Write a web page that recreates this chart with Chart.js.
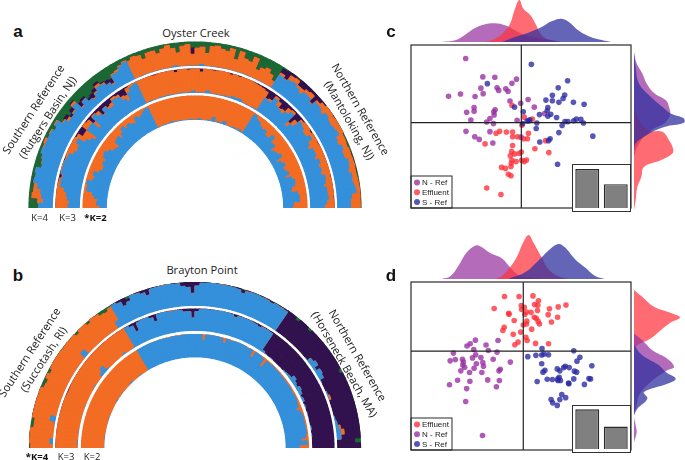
<!DOCTYPE html>
<html>
<head>
<meta charset="utf-8">
<script src="https://cdn.jsdelivr.net/npm/chart.js@4/dist/chart.umd.min.js"></script>
<style>
  html, body { margin: 0; padding: 0; background: #fff; width: 685px; height: 460px; overflow: hidden; }
  .box { position: absolute; overflow: hidden; }
  .box canvas { display: block; }
  .inset { background: #fff; border: 1px solid #333; box-sizing: content-box; }
  .t { position: absolute; white-space: nowrap; transform: translate(-50%, -50%); font: 11.2px "Open Sans", sans-serif; color: #222; }
  .k { font-size: 9.5px; }
  .bold { font-weight: 700; color: #111; }
  .letter { font: 700 17px "Liberation Sans", sans-serif; color: #111; }
</style>
</head>
<body>

<div class="box" style="left:28px;top:41px;width:334px;height:167px"><canvas id="fanA" width="334" height="334"></canvas></div>
<div class="box" style="left:28px;top:281px;width:334px;height:167px"><canvas id="fanB" width="334" height="334"></canvas></div>

<div class="box" style="left:407px;top:0;width:228px;height:42px"><canvas id="cTop" width="228" height="42"></canvas></div>
<div class="box" style="left:634px;top:41px;width:51px;height:171px"><canvas id="cRight" width="51" height="171"></canvas></div>
<div class="box" style="left:407px;top:41px;width:228px;height:171px"><canvas id="cScatter" width="228" height="171"></canvas></div>
<div class="box inset" style="left:572px;top:164px;width:57px;height:46px"><canvas id="cBars" width="57" height="46"></canvas></div>

<div class="box" style="left:407px;top:235px;width:228px;height:44px"><canvas id="dTop" width="228" height="44"></canvas></div>
<div class="box" style="left:634px;top:278px;width:51px;height:176px"><canvas id="dRight" width="51" height="176"></canvas></div>
<div class="box" style="left:407px;top:278px;width:228px;height:176px"><canvas id="dScatter" width="228" height="176"></canvas></div>
<div class="box inset" style="left:572px;top:405px;width:57px;height:46px"><canvas id="dBars" width="57" height="46"></canvas></div>

<script>
//Colours
const GREEN = '#1b6834', PURPLE = '#32124e', ORANGE = '#f36c24', BLUE = '#3490da';
const C_NREF = 'rgba(150,45,160,0.78)', C_EFF = 'rgba(255,45,55,0.78)', C_SREF = 'rgba(40,40,160,0.78)';
const F_NREF = 'rgba(150,50,160,0.72)', F_EFF = 'rgba(255,50,60,0.72)', F_SREF = 'rgba(50,50,160,0.75)';

//Panel a: share of each individual per cluster, left to right (S ref, effluent, N ref)
const aK2Orange = [
  .7,.55,.6,.45,.35,.1,.1,.05,.25,.3,.2,.4,.5,.5,.4,.45,.3,.25,.35,.5,.55,.6,.35,.3,.45,.3,.15,.3,.2,.3,.35,.15,.25,.2,.1,.05,
  .97,.98,.95,.98,.97,.93,.97,.98,.96,.97,.98,.97,.96,.98,.98,.93,.98,.98,.95,.98,.8,.98,.94,.97,.85,.98,.96,.98,.93,.98,.9,.98,
  .05,.15,.2,.3,.35,.3,.45,.45,.25,.5,.45,.7,.6,.55,.45,.75,.6,.5,.65,.6,.5,.7,.45,.35,.4,.55,.6,.35,.3,.3,.55,.6];
const aK3Orange = [
  .5,.55,.45,.4,.3,.12,.08,.05,.02,.05,.02,.05,.1,.25,.35,.3,.15,.4,.35,.5,.25,.2,.3,.05,.15,.05,.02,.1,.15,.1,.1,.15,.25,.2,.1,.05,
  .97,.96,.97,.98,.93,.96,.95,.97,.97,.88,.96,.97,.92,.9,.97,.85,.97,.87,.95,.96,.97,.97,.9,.97,.85,.9,.88,.97,.93,.95,.9,.85,
  .03,.08,.1,.2,.05,.15,.2,.1,.2,.25,.1,.2,.3,.25,.15,.35,.45,.3,.3,.4,.25,.35,.3,.35,.2,.25,.35,.25,.25,.2,.3,.4];
const aK3Purple = [
  0,0,0,0,0,0,.02,.1,.02,0,0,.03,0,0,0,0,0,.05,.25,.25,0,.05,.3,.05,.1,.35,.15,.25,.2,.05,.1,.25,.3,.05,0,0,
  0,0,0,0,.03,0,0,0,0,.09,0,0,.04,0,0,.12,0,0,.03,0,0,0,.05,0,.04,0,0,0,.03,.04,.06,.1,
  .35,.3,.05,.15,.35,.3,.1,.05,.5,.25,.05,0,0,.05,0,0,.02,0,0,0,0,0,0,0,.02,0,0,0,0,.02,0,0];
const aK4Green = [
  .4,.35,.1,.15,.15,.08,.15,.1,.3,.25,.2,.1,.1,.05,.15,.1,.25,.1,.35,.3,.45,.3,.15,.4,.35,.55,.5,.4,.25,.4,.45,.5,.35,.3,.2,.12,
  .2,.1,.15,.35,.15,.15,.3,.15,.05,.2,.4,.15,.1,.25,.25,.2,.45,.15,.1,.2,.25,.1,.5,.12,.35,.4,.15,.6,.45,.35,.5,.7,
  .05,.02,0,.02,0,0,0,0,0,0,0,0,0,0,0,0,0,.05,.05,.08,.05,.03,.02,.03,.03,.05,.03,.02,.02,.02,.03,.03];
const aK4Orange = [
  0,.25,.4,.3,.15,0,0,0,0,.02,0,0,.05,.1,0,.05,0,.05,.05,.1,0,.05,.1,.05,.02,0,.05,.05,.1,.05,.02,.05,.05,.1,.05,.05,
  .78,.88,.83,.63,.83,.83,.68,.83,.93,.72,.58,.83,.88,.48,.73,.72,.53,.83,.88,.78,.73,.88,.48,.86,.63,.58,.83,.38,.53,.63,.48,.28,
  .1,.03,.2,.2,.1,.2,.15,.2,.05,.1,.2,.35,.2,.25,.3,.25,.2,.3,.35,.2,.3,.3,.2,.25,.3,.2,.25,.2,.15,.35,.4,.4];
const aK4Purple = [
  0,0,0,0,0,.03,0,0,0,0,0,0,0,0,0,0,0,0,0,.15,.1,.15,.05,.2,.1,.1,.2,.15,.1,.05,.15,.2,0,0,0,0,
  0,0,0,0,0,0,0,0,0,0,0,0,0,.25,0,0,0,0,0,0,0,0,0,0,0,0,0,0,0,0,0,0,
  .2,.35,.1,.05,.25,.25,.15,.1,.4,.15,.05,0,0,.02,0,0,0,0,0,0,0,.02,.02,0,.02,0,0,0,0,0,0,0];

//Panel b: same, split S ref (33), effluent (36), N ref (31)
const bK2Orange = [
  .98,1,1,.97,1,1,1,1,1,1,.96,1,1,1,1,1,1,.95,1,1,.96,1,1,1,1,.94,1,1,1,.96,1,1,.97,
  0,0,0,0,0,0,0,0,0,.05,0,0,.03,0,0,0,0,0,0,.25,0,0,0,0,.03,.22,0,.05,0,0,0,0,.05,0,.3,0,
  .02,.05,.4,.05,.05,.03,.05,.03,.05,.06,.05,.06,.05,.05,.08,.05,.05,.08,.1,.22,.1,.05,.05,.06,.05,.05,.05,.1,.32,.05,.4];
const bK3Orange = [
  1,.95,1,1,.97,1,1,1,1,1,1,.97,1,1,1,1,1,.96,1,1,1,.85,.7,.95,1,1,1,1,1,.93,1,1,.96,
  0,0,0,0,0,0,0,0,0,0,0,.04,0,0,0,0,0,0,0,0,0,0,0,0,0,0,.03,0,0,0,0,0,0,.03,0,0,
  0,0,0,0,0,0,0,0,0,0,0,0,0,0,0,0,0,0,0,0,0,0,0,0,0,0,0,0,0,0,0];
const bK3Purple = [
  0,0,0,0,0,0,0,0,0,0,0,0,.02,.03,.02,0,0,0,0,0,0,0,0,0,0,0,0,0,0,0,0,0,0,
  .02,.1,.4,.05,0,.02,.1,.3,.02,0,.02,0,.02,.03,.12,.12,.4,.12,.03,0,.02,0,.02,0,0,.02,.1,.03,.02,.02,.03,.05,.1,.03,.03,.05,
  .9,.97,1,.97,1,1,1,1,.95,.92,.9,.75,.85,.9,.8,.85,.95,.9,1,.95,1,.97,.98,1,1,.95,1,.97,1,1,1];
const bK4Green = [
  .05,0,0,0,.12,.12,0,0,0,0,.02,0,.12,.15,.02,.12,.02,0,0,0,.02,0,.02,0,.1,0,0,.1,0,.02,.12,.15,.05,
  0,0,0,.1,0,0,0,0,0,0,0,0,0,0,0,0,0,0,0,0,0,0,0,0,0,0,.04,0,0,0,0,0,.03,0,0,0,
  0,0,.12,0,0,.1,0,0,0,0,0,0,0,0,0,.12,0,0,0,0,0,0,0,0,0,0,0,0,0,.25,0];
const bK4Orange = [
  .95,.85,1,1,.88,.85,.75,1,1,1,.98,1,.88,.85,.98,.88,.98,1,1,1,.98,1,.7,1,.9,1,1,.9,1,.98,.88,.85,.65,
  0,0,0,0,0,.02,0,0,0,0,.02,0,0,0,0,0,.02,0,0,0,0,0,.02,0,0,0,0,.02,0,0,0,.02,0,0,.02,0,
  0,0,0,0,0,0,0,0,0,0,.02,0,0,0,0,0,0,0,0,.08,0,0,0,0,0,0,.08,.15,0,0,0];
const bK4Purple = [
  0,0,0,0,0,0,0,0,0,0,0,0,0,0,0,0,0,0,0,0,0,0,0,0,0,0,0,0,0,0,0,0,0,
  .02,.08,.3,.1,0,.03,.1,.25,.03,.02,0,0,.02,.03,.15,.2,.45,.15,.03,.02,0,.02,0,.02,.03,.05,.12,.03,.02,.02,.03,.03,.05,.03,.03,.05,
  1,1,.88,1,1,.9,1,1,1,.98,.8,.72,.9,.75,.8,.85,1,1,.95,.88,1,1,1,1,.95,.9,.78,.65,.8,.75,1];

//Panels c, d: points, in axis units
const cNRef = [[237,168],[290,225],[327,226],[394,232],[380,245],[284,260],[334,259],[339,267],[361,262],[368,270],[291,277],[221,278],[184,285],[266,286],[374,300],[407,307],[430,295],[449,319],[263,320],[263,332],[240,335],[328,327],[324,333],[325,343],[312,354],[253,359],[302,365],[323,370],[396,360],[481,339],[238,394],[312,395],[265,411],[279,419],[321,430],[408,412]];
const cEffluent = [[380,313],[418,350],[443,356],[411,375],[342,394],[331,400],[363,396],[382,396],[431,400],[382,411],[397,411],[416,417],[428,417],[297,433],[382,438],[484,423],[451,448],[494,460],[379,457],[409,458],[402,463],[388,464],[375,470],[380,484],[393,488],[410,484],[425,483],[418,488],[378,493],[377,503],[348,506],[360,509],[369,527],[377,532],[302,570],[346,590]];
const cSRef = [[440,186],[304,246],[552,237],[523,259],[505,282],[543,281],[538,292],[485,297],[505,299],[525,304],[570,304],[603,310],[388,319],[415,333],[491,320],[489,330],[465,342],[491,347],[500,341],[518,351],[427,362],[435,358],[432,362],[457,368],[413,370],[544,364],[553,364],[571,361],[579,356],[593,357],[601,368],[535,376],[455,385],[525,398],[630,409],[466,427],[493,423],[498,417],[521,496]];
const dEffluent = [[357,177],[402,177],[445,175],[462,190],[450,202],[460,204],[409,205],[418,210],[325,214],[410,217],[459,220],[496,215],[523,209],[547,203],[439,226],[425,225],[420,232],[370,229],[371,232],[492,233],[521,241],[449,241],[455,244],[426,253],[387,251],[461,254],[465,262],[502,256],[425,262],[415,265],[356,272],[441,278],[352,282],[407,287],[384,294],[423,303],[427,313],[399,318],[389,326],[453,322],[493,323]];
const dNRef = [[267,312],[251,323],[241,330],[300,327],[337,313],[262,341],[307,344],[334,349],[199,352],[268,357],[258,367],[284,366],[189,376],[205,372],[227,371],[230,380],[322,371],[375,380],[270,385],[290,381],[228,389],[234,396],[292,393],[263,399],[222,407],[249,412],[287,412],[344,402],[340,407],[212,436],[250,439],[305,435],[341,437],[187,450],[332,456],[240,462],[237,502],[289,607]];
const dSRef = [[473,338],[479,355],[472,358],[493,357],[571,345],[429,363],[454,359],[590,365],[581,377],[472,385],[627,391],[545,393],[557,397],[540,397],[520,401],[528,407],[482,405],[476,411],[573,408],[580,411],[526,427],[522,432],[489,433],[505,434],[522,437],[530,437],[571,432],[618,431],[623,432],[458,440],[555,445],[556,447],[604,449],[534,480],[546,490],[528,496],[501,496],[506,506],[520,514]];

//Axis limits and zero lines of the two scatter plots
const cXRange = [68,748], cYRange = [126,632], cZero = [409,367];
const dXRange = [68,748], dYRange = [132,652], dZero = [415,346];

//Marginal densities: position along the axis and height
const cTopNPos = [170,210,240,270,300,330,360,390,420,460,500,530];
const cTopNVal = [0,5,22,42,53,56,50,35,20,12,6,0];
const cTopEPos = [300,330,355,375,390,403,415,435,450,465,480,500,530];
const cTopEVal = [0,10,28,55,100,126,100,82,58,28,12,4,0];
const cTopSPos = [350,390,430,470,500,530,555,580,610,640,680];
const cTopSVal = [0,15,28,45,62,70,58,35,18,8,0];
const cRightNPos = [160,190,220,250,280,300,320,345,370,385,410,440,470];
const cRightNVal = [0,8,25,38,62,95,105,108,90,60,30,10,0];
const cRightEPos = [330,390,395,420,445,460,480,500,530,560,600,630];
const cRightEVal = [0,40,85,105,117,115,80,30,22,10,5,0];
const cRightSPos = [155,200,250,290,320,340,355,368,378,390,410,430,450];
const cRightSVal = [0,5,15,50,85,110,150,150,100,65,30,5,0];
const dTopNPos = [170,195,220,245,270,285,315,350,375,400,440,470];
const dTopNVal = [0,8,40,80,100,98,78,62,35,12,3,0];
const dTopEPos = [330,350,375,395,415,431,445,470,490,520,550];
const dTopEVal = [0,8,35,65,110,132,110,65,30,8,0];
const dTopSPos = [370,420,460,490,520,540,570,600,630,660];
const dTopSVal = [0,20,55,85,105,95,60,35,10,0];
const dRightEPos = [165,190,215,235,247,262,285,310,330,345];
const dRightEVal = [0,30,60,115,138,110,80,50,10,0];
const dRightNPos = [295,320,345,370,395,405,440,480,510,540,570,590,620];
const dRightNVal = [0,30,55,100,120,100,50,15,8,0,5,8,0];
const dRightSPos = [330,360,390,410,430,445,470,490,520,540];
const dRightSVal = [0,25,75,95,125,100,30,40,10,0];

//Explained variance bars
const cBarValues = [116,71];
const dBarValues = [118,67];
const barLabels = ['Axis 1','Axis 2'];

//Labels drawn round the figure: text, centre x, centre y, rotation, class
const figureTexts = [
  ['a',18,32,0,'letter'], ['b',18,276,0,'letter'], ['c',391,32,0,'letter'], ['d',391,276,0,'letter'],
  ['Oyster Creek',196,32,0,''], ['Brayton Point',202,269,0,''],
  ['Southern Reference',33,109,-57,''], ['(Rutgers Basin, NJ)',46.5,117,-57,''],
  ['Northern Reference',361,109,60,''], ['(Mantoloking, NJ)',350,120,60,''],
  ['Southern Reference',29,352,-57,''], ['(Succotash, RI)',42.5,358.5,-57,''],
  ['Northern Reference',358,355,60,''], ['(Horseneck Beach, MA)',345,364,60,''],
  ['K=4',39.5,217,0,'k'], ['K=3',67.5,217,0,'k'], ['*K=2',95.5,217,0,'k bold'],
  ['*K=4',37,456,0,'k bold'], ['K=3',66,456,0,'k'], ['K=2',92,456,0,'k']
];

figureTexts.forEach(function (t) {
  const el = document.createElement('div');
  el.className = 't ' + t[4];
  el.textContent = t[0];
  el.style.left = t[1] + 'px';
  el.style.top = t[2] + 'px';
  el.style.transform = 'translate(-50%,-50%) rotate(' + t[3] + 'deg)';
  document.body.appendChild(el);
});

Chart.defaults.animation = false;
Chart.defaults.responsive = false;
Chart.defaults.plugins.legend.display = false;
Chart.defaults.plugins.tooltip.enabled = false;

//One ring is a stack of wedges, painted from the outer edge inwards
function ringLayers(outer, inner, layers) {
  const t = outer - inner;
  const n = layers[0].values.length;
  const used = new Array(n).fill(0);
  const out = [];
  layers.forEach(function (l) {
    out.push({color: l.color, data: used.map(function (u) { return outer - t * u; })});
    l.values.forEach(function (v, i) { used[i] += v; });
  });
  out.push({color: BLUE, data: used.map(function (u) { return outer - t * u; })});
  out.push({color: '#fff', data: new Array(n).fill(inner)});
  return out;
}

function makeFan(id, rings) {
  let layers = [];
  rings.forEach(function (r) { layers = layers.concat(ringLayers(r.outer, r.inner, r.layers)); });
  // first dataset is painted last
  layers.reverse();
  new Chart(id, {
    type: 'polarArea',
    data: {
      labels: layers[0].data.map(function (v, i) { return i + 1; }),
      datasets: layers.map(function (l) {
        return {data: l.data, angle: 1.8, backgroundColor: l.color, borderColor: l.color, borderWidth: 1.2};
      })
    },
    options: {
      layout: {padding: 0},
      scales: {r: {display: false, min: 0, max: 167, startAngle: -90}}
    }
  });
}

makeFan('fanA', [
  {outer: 166, inner: 141.5, layers: [{color: GREEN, values: aK4Green}, {color: PURPLE, values: aK4Purple}, {color: ORANGE, values: aK4Orange}]},
  {outer: 139, inner: 114.5, layers: [{color: PURPLE, values: aK3Purple}, {color: ORANGE, values: aK3Orange}]},
  {outer: 112, inner: 87.5, layers: [{color: ORANGE, values: aK2Orange}]}
]);
makeFan('fanB', [
  {outer: 165.5, inner: 141.5, layers: [{color: GREEN, values: bK4Green}, {color: PURPLE, values: bK4Purple}, {color: ORANGE, values: bK4Orange}]},
  {outer: 139, inner: 116.5, layers: [{color: PURPLE, values: bK3Purple}, {color: ORANGE, values: bK3Orange}]},
  {outer: 113.5, inner: 90, layers: [{color: ORANGE, values: bK2Orange}]}
]);

//Border Chart
const chartAreaBorder = {
  id: 'chartAreaBorder',
  beforeDatasetsDraw(chart) {
    const {ctx, chartArea: {left, top, width, height}} = chart;
    ctx.save();
    ctx.fillStyle = '#fff';
    ctx.fillRect(left, top, width, height);
    ctx.restore();
  },
  afterDraw(chart) {
    const {ctx, chartArea: {left, top, width, height}} = chart;
    ctx.save();
    ctx.strokeStyle = '#2a2a2a';
    ctx.lineWidth = 1.2;
    ctx.strokeRect(left, top, width, height);
    ctx.restore();
  }
};

//Small legend box in the lower left corner, built from the dataset labels
const cornerLegend = {
  id: 'cornerLegend',
  afterDraw(chart) {
    const {ctx, chartArea: {left, bottom}} = chart;
    const items = chart.data.datasets.filter(function (d) { return d.inLegend; })
      .sort(function (a, b) { return a.inLegend - b.inLegend; });
    const w = 41, h = 32;
    ctx.save();
    ctx.fillStyle = '#fff';
    ctx.strokeStyle = '#2a2a2a';
    ctx.lineWidth = 1;
    ctx.fillRect(left, bottom - h, w, h);
    ctx.strokeRect(left, bottom - h, w, h);
    ctx.font = '8px "Liberation Sans", sans-serif';
    ctx.textBaseline = 'middle';
    items.forEach(function (d, i) {
      const y = bottom - h + 6.5 + i * 9.7;
      ctx.beginPath();
      ctx.arc(left + 6, y, 3, 0, Math.PI * 2);
      ctx.fillStyle = d.backgroundColor;
      ctx.fill();
      ctx.fillStyle = '#222';
      ctx.fillText(d.label, left + 11, y + 0.5);
    });
    ctx.restore();
  }
};

function toPoints(pairs) {
  return pairs.map(function (p) { return {x: p[0], y: p[1]}; });
}

function makeScatter(id, xRange, yRange, zero, series) {
  const lineStyle = {type: 'scatter', showLine: true, borderColor: '#222', borderWidth: 1.2, pointRadius: 0};
  new Chart(id, {
    type: 'scatter',
    data: {
      datasets: [
        Object.assign({data: [{x: zero[0], y: yRange[0]}, {x: zero[0], y: yRange[1]}]}, lineStyle),
        Object.assign({data: [{x: xRange[0], y: zero[1]}, {x: xRange[1], y: zero[1]}]}, lineStyle)
      ].concat(series.map(function (s, i) {
        return {label: s.label, inLegend: s.rank, data: toPoints(s.points), backgroundColor: s.color, borderWidth: 0, pointRadius: 2.8};
      }))
    },
    options: {
      layout: {padding: 1},
      scales: {
        x: {display: false, min: xRange[0], max: xRange[1]},
        y: {display: false, min: yRange[0], max: yRange[1], reverse: true}
      }
    },
    plugins: [cornerLegend, chartAreaBorder]
  });
}

makeScatter('cScatter', cXRange, cYRange, cZero, [
  {label: 'S - Ref', rank: 3, points: cSRef, color: C_SREF},
  {label: 'Effluent', rank: 2, points: cEffluent, color: C_EFF},
  {label: 'N - Ref', rank: 1, points: cNRef, color: C_NREF}
]);
makeScatter('dScatter', dXRange, dYRange, dZero, [
  {label: 'S - Ref', rank: 3, points: dSRef, color: C_SREF},
  {label: 'N - Ref', rank: 2, points: dNRef, color: C_NREF},
  {label: 'Effluent', rank: 1, points: dEffluent, color: C_EFF}
]);

function curveData(pos, val, horizontal) {
  return pos.map(function (p, i) { return horizontal ? {x: val[i], y: p} : {x: p, y: val[i]}; });
}

function densityDatasets(curves, horizontal) {
  return curves.map(function (c) {
    return {data: curveData(c[0], c[1], horizontal), backgroundColor: c[2], borderWidth: 0, pointRadius: 0, tension: 0.4, fill: 'origin'};
  });
}

function makeTop(id, range, maxVal, curves) {
  new Chart(id, {
    type: 'line',
    data: {datasets: densityDatasets(curves, false)},
    options: {
      layout: {padding: {left: 1, right: 1}},
      scales: {
        x: {type: 'linear', display: false, min: range[0], max: range[1]},
        y: {display: false, min: 0, max: maxVal}
      }
    }
  });
}

function makeRight(id, range, maxVal, curves) {
  new Chart(id, {
    type: 'line',
    data: {datasets: densityDatasets(curves, true)},
    options: {
      indexAxis: 'y',
      layout: {padding: {top: 1, bottom: 1}},
      scales: {
        x: {type: 'linear', display: false, min: 0, max: maxVal},
        y: {type: 'linear', display: false, min: range[0], max: range[1], reverse: true}
      }
    }
  });
}

makeTop('cTop', cXRange, 126, [[cTopSPos, cTopSVal, F_SREF], [cTopEPos, cTopEVal, F_EFF], [cTopNPos, cTopNVal, F_NREF]]);
makeRight('cRight', cYRange, 153, [[cRightSPos, cRightSVal, F_SREF], [cRightEPos, cRightEVal, F_EFF], [cRightNPos, cRightNVal, F_NREF]]);
makeTop('dTop', dXRange, 132, [[dTopSPos, dTopSVal, F_SREF], [dTopEPos, dTopEVal, F_EFF], [dTopNPos, dTopNVal, F_NREF]]);
makeRight('dRight', dYRange, 153, [[dRightSPos, dRightSVal, F_SREF], [dRightNPos, dRightNVal, F_NREF], [dRightEPos, dRightEVal, F_EFF]]);

function makeBars(id, values) {
  new Chart(id, {
    type: 'bar',
    data: {
      labels: barLabels,
      datasets: [{data: values, backgroundColor: '#808080', borderColor: '#2a2a2a', borderWidth: 1.4, barPercentage: 0.84, categoryPercentage: 1}]
    },
    options: {
      layout: {padding: {bottom: 3}},
      scales: {
        x: {display: false},
        y: {display: false, min: 0, max: 128}
      }
    }
  });
}

makeBars('cBars', cBarValues);
makeBars('dBars', dBarValues);
</script>
</body>
</html>
